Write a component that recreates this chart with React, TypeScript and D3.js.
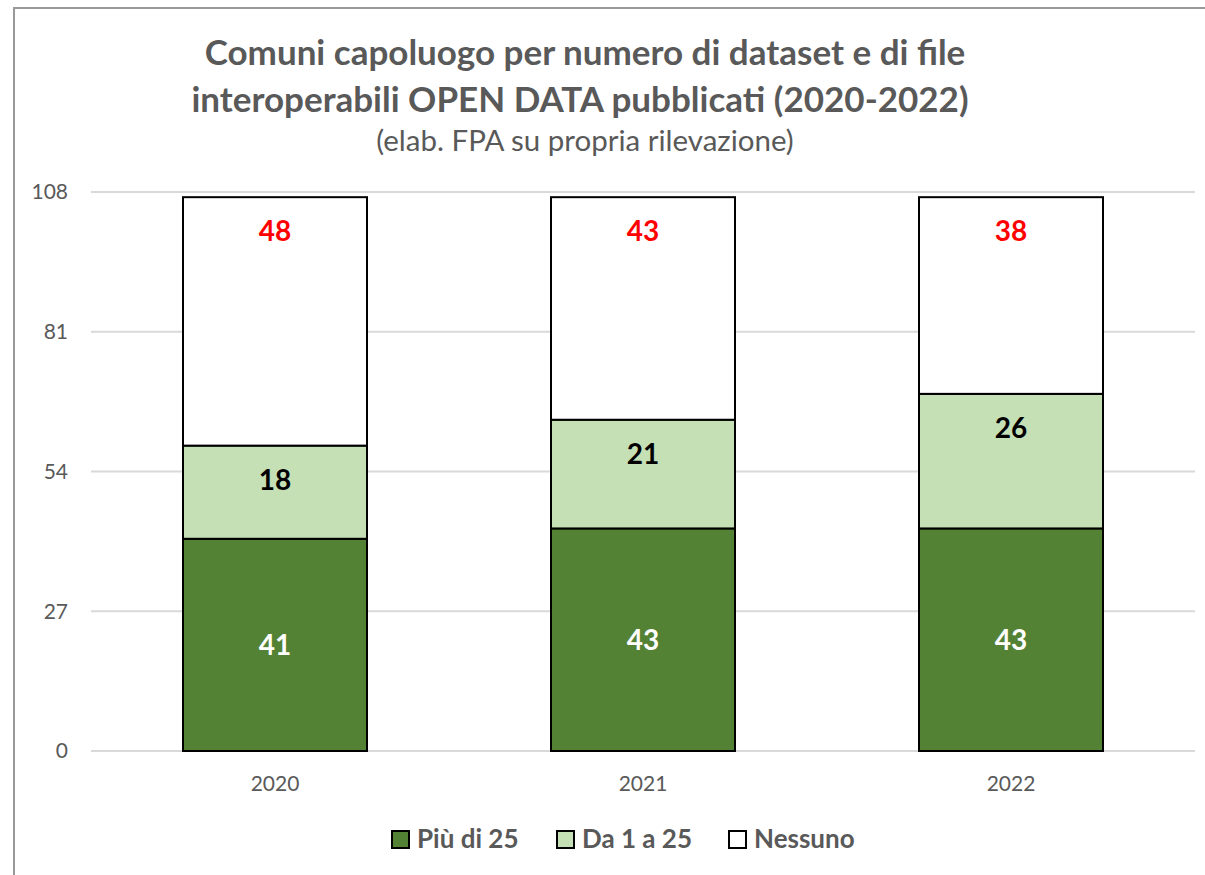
import React from "react";
import * as d3 from "d3";

const categories = ["2020", "2021", "2022"];
const piuDi25 = [41, 43, 43];
const da1a25 = [18, 21, 26];
const nessuno = [48, 43, 38];
const yTicks = [0, 27, 54, 81, 108];
const seriesNames = ["Più di 25", "Da 1 a 25", "Nessuno"];
const titleLines = [
  "Comuni capoluogo per numero di dataset e di file",
  "interoperabili OPEN DATA pubblicati (2020-2022)",
];
const subtitle = "(elab. FPA su propria rilevazione)";

const fills = ["#548235", "#C5E0B4", "#FFFFFF"];
const labelColors = ["#FFFFFF", "#000000", "#FF0000"];
const FONT = "Lato, 'Open Sans', sans-serif";
const GREY = "#595959";

export default function App() {
  const W = 1205,
    H = 875;
  const x = d3.scaleBand<string>().domain(categories).range([91, 1195]).paddingInner(0.5).paddingOuter(0.25);
  const y = d3.scaleLinear().domain([0, 108]).range([751, 192]);

  const rows = categories.map((c, i) => ({ cat: c, s0: piuDi25[i], s1: da1a25[i], s2: nessuno[i] }));
  const stack = d3.stack<any>().keys(["s0", "s1", "s2"]);
  const layers = stack(rows);

  const legendX = [392, 557, 729];
  const titleX = [585, 580];

  return (
    <svg width={W} height={H} style={{ position: "absolute", left: 0, top: 0, display: "block" }} fontFamily={FONT}>
      <rect x={0} y={0} width={W} height={H} fill="#fff" />
      <rect x={14} y={8} width={W + 20} height={H + 20} fill="#fff" stroke="#999" strokeWidth={2} />

      {titleLines.map((t, i) => (
        <text key={i} x={titleX[i]} y={65 + i * 47} textAnchor="middle" fontSize={35} fontWeight="bold" fill={GREY}>
          {t}
        </text>
      ))}
      <text x={585} y={151} textAnchor="middle" fontSize={29.5} fill={GREY}>
        {subtitle}
      </text>

      {yTicks.map((t) => (
        <g key={t}>
          <line x1={91} x2={1195} y1={y(t)} y2={y(t)} stroke="#D9D9D9" strokeWidth={2} />
          <text x={68} y={y(t)} dy="0.35em" textAnchor="end" fontSize={21} fill={GREY}>
            {t}
          </text>
        </g>
      ))}

      {layers.map((layer, li) => (
        <g key={li}>
          {layer.map((d: any, i: number) => (
            <rect
              key={i}
              x={x(d.data.cat)}
              y={y(d[1])}
              width={x.bandwidth()}
              height={y(d[0]) - y(d[1])}
              fill={fills[li]}
              stroke="#000"
              strokeWidth={2}
            />
          ))}
        </g>
      ))}

      {layers.map((layer, li) => (
        <g key={"l" + li}>
          {layer.map((d: any, i: number) => {
            const cx = (x(d.data.cat) as number) + x.bandwidth() / 2;
            const cy = li === 0 ? (y(d[0]) + y(d[1])) / 2 : y(d[1]) + 34;
            return (
              <text key={i} x={cx} y={cy} dy="0.36em" textAnchor="middle" fontSize={28} fontWeight="bold" fill={labelColors[li]}>
                {d[1] - d[0]}
              </text>
            );
          })}
        </g>
      ))}

      {categories.map((c) => (
        <text key={c} x={(x(c) as number) + x.bandwidth() / 2} y={791} textAnchor="middle" fontSize={21} fill={GREY}>
          {c}
        </text>
      ))}

      {seriesNames.map((n, i) => (
        <g key={n}>
          <rect x={legendX[i]} y={831} width={17} height={17} fill={fills[i]} stroke="#000" strokeWidth={2} />
          <text x={legendX[i] + 25} y={848} fontSize={26} fontWeight="bold" fill={GREY}>
            {n}
          </text>
        </g>
      ))}
    </svg>
  );
}
